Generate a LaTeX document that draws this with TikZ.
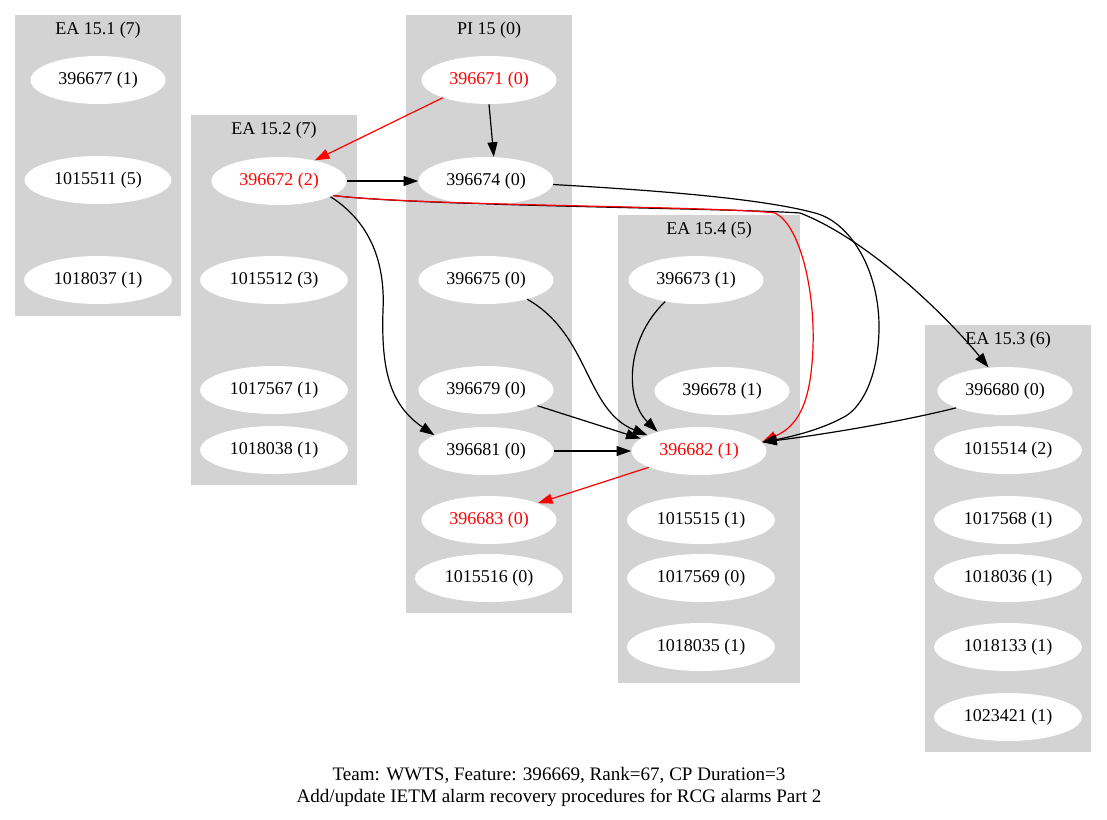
\documentclass[tikz,border=0pt]{standalone}
\usepackage{fontspec}
\setmainfont{Liberation Serif}
\usetikzlibrary{arrows.meta,shapes.geometric}
\definecolor{grisGrupo}{HTML}{D3D3D3}
\definecolor{rojoCP}{HTML}{FF0000}
\newcommand{\gvfont}{\fontsize{13.5}{16}\selectfont}

\begin{document}
\begin{tikzpicture}[x=0.75pt,y=-0.75pt,>={Triangle[length=11pt,width=7.5pt]},
    tarea/.style={ellipse,fill=white,inner xsep=6pt,inner ysep=1pt,
                  minimum height=36pt,font=\gvfont},
    critica/.style={tarea,text=rojoCP},
    grupo/.style={font=\gvfont},
    arista/.style={->,line width=0.9pt},
    aristacp/.style={arista,rojoCP}]
  \useasboundingbox (0,0) rectangle (1107,819);
  \fill[grisGrupo] (15,15) rectangle (181,316);
  \fill[grisGrupo] (191,115) rectangle (357,485);
  \fill[grisGrupo] (406,15) rectangle (572,613);
  \fill[grisGrupo] (618,215) rectangle (800,683);
  \fill[grisGrupo] (925,325) rectangle (1091,752);
  \node[grupo] (g151) at (98,30) {EA 15.1 (7)};
  \node[grupo] (g152) at (274,130) {EA 15.2 (7)};
  \node[grupo] (gpi15) at (489,30) {PI 15 (0)};
  \node[grupo] (g154) at (709,230) {EA 15.4 (5)};
  \node[grupo] (g153) at (1008,340) {EA 15.3 (6)};
  \node[tarea] (t396677) at (98,80) {396677 (1)};
  \node[tarea] (t1015511) at (98,180) {1015511 (5)};
  \node[tarea] (t1018037) at (98,280) {1018037 (1)};
  \node[critica] (t396672) at (279,181) {396672 (2)};
  \node[tarea] (t1015512) at (274,280) {1015512 (3)};
  \node[tarea] (t1017567) at (274,390) {1017567 (1)};
  \node[tarea] (t1018038) at (274,450) {1018038 (1)};
  \node[critica] (t396671) at (489,80) {396671 (0)};
  \node[tarea] (t396674) at (486,181) {396674 (0)};
  \node[tarea] (t396675) at (486,280) {396675 (0)};
  \node[tarea] (t396679) at (486,390) {396679 (0)};
  \node[tarea] (t396681) at (486,451) {396681 (0)};
  \node[critica] (t396683) at (489,520) {396683 (0)};
  \node[tarea] (t1015516) at (489,578) {1015516 (0)};
  \node[tarea] (t396673) at (696,280) {396673 (1)};
  \node[tarea] (t396678) at (722,391) {396678 (1)};
  \node[critica] (t396682) at (699,451) {396682 (1)};
  \node[tarea] (t1015515) at (701,520) {1015515 (1)};
  \node[tarea] (t1017569) at (701,578) {1017569 (0)};
  \node[tarea] (t1018035) at (701,647) {1018035 (1)};
  \node[tarea] (t396680) at (1005,391) {396680 (0)};
  \node[tarea] (t1015514) at (1008,450) {1015514 (2)};
  \node[tarea] (t1017568) at (1008,520) {1017568 (1)};
  \node[tarea] (t1018036) at (1008,578) {1018036 (1)};
  \node[tarea] (t1018133) at (1008,647) {1018133 (1)};
  \node[tarea] (t1023421) at (1008,717) {1023421 (1)};
  \node[font=\fontsize{14.3}{17}\selectfont,align=center] (pie) at (559,787)
    {Team: WWTS, Feature: 396669, Rank=67, CP Duration=3\\
     Add/update IETM alarm recovery procedures for RCG alarms Part 2};
  \draw[aristacp] (t396671.201) -- (t396672.30);
  \draw[arista] (t396671.south) -- (t396674.72);
  \draw[arista] (t396672.east) -- (t396674.west);
  \draw[arista] (t396672.-17) .. controls (375,225) and (385,270) .. (383,310)
    .. controls (381,370) and (390,405) .. (t396681.163);
  \draw[arista] (t396672.-15) .. controls (420,206) and (730,208) .. (800,213)
    .. controls (870,240) and (950,320) .. (t396680.125);
  \draw[aristacp] (t396672.-15) .. controls (420,206) and (720,206) .. (775,213)
    .. controls (800,225) and (815,290) .. (813,347)
    .. controls (811,400) and (800,425) .. (t396682.8);
  \draw[arista] (t396674.-3) .. controls (650,190) and (760,198) .. (815,213)
    .. controls (850,222) and (880,270) .. (879,330)
    .. controls (878,380) and (860,410) .. (842,418)
    .. controls (820,430) and (790,437) .. (t396682.8);
  \draw[arista] (t396680.199) .. controls (900,422) and (820,435) .. (t396682.8);
  \draw[arista] (t396675.-25) .. controls (590,335) and (585,410) .. (t396682.163);
  \draw[arista] (t396673.215) .. controls (625,340) and (625,400) .. (t396682.155);
  \draw[arista] (t396679.-17) -- (t396682.168);
  \draw[arista] (t396681.east) -- (t396682.west);
  \draw[aristacp] (t396682.198) -- (t396683.19);
\end{tikzpicture}
\end{document}
